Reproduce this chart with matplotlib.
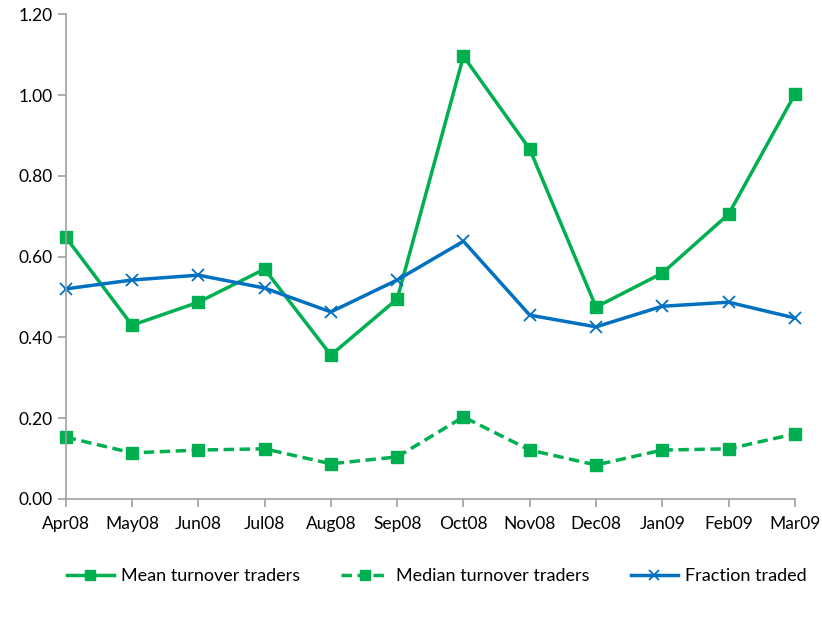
import matplotlib
matplotlib.use("Agg")
import matplotlib.pyplot as plt

plt.rcParams['font.family'] = ['Lato', 'DejaVu Sans']

months = ['Apr08', 'May08', 'Jun08', 'Jul08', 'Aug08', 'Sep08',
          'Oct08', 'Nov08', 'Dec08', 'Jan09', 'Feb09', 'Mar09']
mean_turnover = [0.648, 0.430, 0.487, 0.569, 0.356, 0.495,
                 1.096, 0.866, 0.475, 0.559, 0.705, 1.002]
median_turnover = [0.153, 0.114, 0.121, 0.124, 0.087, 0.104,
                   0.203, 0.121, 0.084, 0.121, 0.124, 0.161]
fraction_traded = [0.520, 0.542, 0.554, 0.522, 0.463, 0.542,
                   0.638, 0.455, 0.426, 0.477, 0.487, 0.448]

green = '#00B050'
blue = '#0070C0'
axis_grey = '#A0A0A0'

fig = plt.figure(figsize=(8.22, 6.19), dpi=100)
ax = fig.add_axes([0.080, 0.194, 0.887, 0.783])

x = range(len(months))
ax.plot(x, mean_turnover, color=green, lw=2.5, marker='s', ms=8,
        label='Mean turnover traders')
ax.plot(x, median_turnover, color=green, lw=2.5, ls=(0, (3, 1.6)), marker='s', ms=8,
        label='Median turnover traders')
ax.plot(x, fraction_traded, color=blue, lw=2.5, marker='x', ms=8, mew=1.3,
        label='Fraction traded')

ax.set_xlim(0, len(months) - 1)
ax.set_ylim(0, 1.2)
ax.set_yticks([0, 0.2, 0.4, 0.6, 0.8, 1.0, 1.2])
ax.set_yticklabels([f'{v:.2f}' for v in ax.get_yticks()])
ax.set_xticks(list(x))
ax.set_xticklabels(months)

for s in ['top', 'right']:
    ax.spines[s].set_visible(False)
for s in ['left', 'bottom']:
    ax.spines[s].set_color(axis_grey)
    ax.spines[s].set_linewidth(1.2)
ax.tick_params(axis='both', colors=axis_grey, length=6, width=1.2,
               labelsize=12.5, labelcolor='black')
ax.tick_params(axis='x', pad=6)
for line in ax.get_lines():
    line.set_clip_on(False)

fig.legend(loc='center', bbox_to_anchor=(0.531, 0.069), ncol=3, frameon=False,
           fontsize=13, handlelength=2.6, columnspacing=2.3, handletextpad=0.4,
           markerscale=0.85)

fig.savefig('out.png', dpi=100)
